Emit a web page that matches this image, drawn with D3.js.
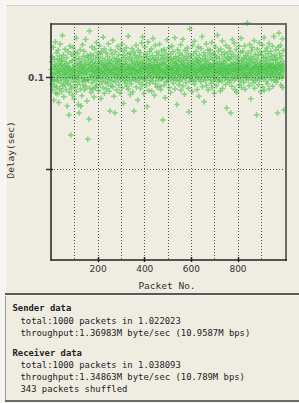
<!DOCTYPE html>
<html><head><meta charset="utf-8">
<script src="https://cdn.jsdelivr.net/npm/d3@7"></script>
<style>html,body{margin:0;padding:0;background:#f5f4ef;} svg{display:block}</style>
</head><body><svg id="c" width="299" height="403"></svg>
<script>
// Delay per packet, in units of 0.1 ms (packet numbers 1..1000)
const delayTenthMs = [
1042,998,1085,963,1021,1112,931,1057,987,1164,1015,874,1046,1098,979,952,1071,1026,1193,914,
1060,1003,1134,946,1037,981,1096,908,1051,1019,1147,990,861,1077,1032,1116,937,1008,1064,1181,
1025,969,1090,1046,922,1103,997,1069,1228,1012,951,1040,1122,984,893,1058,1030,1087,960,1014,
1153,999,1048,933,1074,1023,1108,978,1062,842,1036,994,1139,966,1053,1017,793,918,1045,1005,
1080,1170,955,1028,684,991,1125,938,1038,1013,1090,902,1057,1000,1162,975,1042,1116,1021,880,
1067,1010,1136,947,1031,1098,986,1215,921,1052,1004,1076,959,1129,1034,994,851,1063,1018,804,
1102,973,1047,1024,1150,935,1071,842,1009,1085,1040,899,1058,992,1177,1029,957,1113,1050,982,
1020,1142,1066,931,998,1094,1045,980,1207,949,1027,1073,1014,870,1119,1037,988,660,1060,1106,
985,1042,771,1083,1252,1015,940,1068,1124,1001,1049,916,1096,1030,1165,969,1056,1007,1081,934,
1035,1117,989,1062,891,1028,1155,1011,1076,943,1044,1099,981,1023,1189,955,1054,1003,1132,1039,
1072,995,1109,926,1048,1018,1086,1172,961,1033,999,1127,1051,884,1080,1025,1142,978,1065,1010,
1103,944,1039,1218,993,1069,1022,1156,912,1057,1031,1092,971,1046,1006,1134,1061,937,1019,1078,
990,1050,1114,965,1036,1183,1013,1075,923,1043,1097,986,815,1067,1024,1149,953,1041,1004,1088,
1029,1125,979,1059,1202,948,1016,1072,1038,896,1105,997,1052,804,1019,1139,1046,974,1084,1011,
1064,930,1100,1026,1047,1168,991,1077,1018,1123,958,1040,1002,1089,1056,915,1032,1152,984,1066,
1014,1095,1049,942,1180,1028,1070,996,1118,1039,856,1055,1006,1144,981,1074,1023,1106,967,1045,
1087,1000,1161,1034,950,1068,1015,1126,988,1051,1224,934,1042,1009,1098,1062,979,1131,1026,906,
1053,1021,1111,963,1077,1037,998,1157,1044,1093,919,1016,1066,989,1138,815,1049,1007,1081,1035,
1120,983,1060,1023,1175,946,1041,1104,997,1072,1030,875,1085,1012,1147,1057,972,1036,1115,993,
1068,1026,1134,938,1050,1004,1092,1043,1187,961,1019,1076,1220,987,1062,1031,1110,910,1047,1001,
1079,1166,994,1054,1017,1127,955,1040,1101,982,1069,839,1035,1113,1005,1059,1193,927,1025,1088,
1011,1048,1141,969,1064,1020,1099,990,1074,1037,1155,923,1052,1003,1119,1045,979,1212,1029,1066,
1096,1013,1056,901,1083,1027,1174,962,1042,1108,996,1061,1022,1136,945,1070,1009,1091,1039,981,
1051,1122,1002,1067,1031,1180,951,1046,1014,1097,933,1058,989,1145,1024,1076,999,1118,1037,766,
1073,993,1105,1040,958,1152,1016,1082,1028,888,1063,1009,1129,1047,975,1095,1020,1205,1055,998,
1038,1111,981,1069,1024,1163,944,1050,1003,1089,1041,1125,916,1062,1015,1103,987,1044,1170,1027,
1080,1006,1053,1139,967,1036,1100,992,1065,1021,1216,936,1075,1010,1114,1048,983,1087,1032,850,
1059,1023,1150,996,1071,1039,1107,959,1052,1018,1133,980,1094,1043,1005,1178,929,1066,1013,1085,
1030,1120,988,1058,1208,952,1042,1076,1007,1099,1025,907,1068,1037,1146,994,1054,1019,1112,971,
1047,1003,1091,1033,1159,1062,1014,1129,939,1080,810,1026,1056,997,1264,1039,1104,980,1072,1017,
1117,1050,990,1066,922,1034,1173,1008,1086,1045,981,1128,1022,1061,1197,961,1040,1098,1004,1077,
1028,1141,985,1053,1015,1108,933,1069,1031,1090,1000,1165,1046,896,1082,1024,1121,991,1060,1038,
1093,975,1045,1157,1009,1073,1035,1222,948,1055,1016,1103,988,1064,1027,1134,866,1051,1005,1087,
1042,1116,982,1070,1020,1182,955,1037,1095,1001,1059,1026,1148,930,1048,1012,1079,1054,998,1125,
1033,1071,1149,986,1044,1106,965,1063,1019,1190,942,1056,1008,1097,1040,1131,979,1074,1025,913,
1065,1002,1118,1049,992,1166,1031,1085,954,1041,1110,1014,1072,1229,995,1052,1023,1142,977,1060,
1027,1101,987,1076,1036,925,1047,1154,1010,1068,1020,1123,978,1057,1198,938,1034,1089,1006,1043,
1078,1015,1137,1052,993,1111,1029,1067,960,1174,1039,1000,831,1092,1045,1022,1127,985,1064,1013,
1105,1031,1058,1160,971,1049,1017,1096,989,1140,804,1072,1036,1112,950,1061,1025,1206,999,1044,
1079,1007,1124,1041,982,1069,1186,933,1053,1018,1102,994,1066,1032,1151,918,1047,1010,1085,1037,
1019,1116,1054,990,1075,1169,957,1042,1097,1006,1063,1028,1135,980,1050,1213,944,1071,1014,1090,
1036,997,1143,1059,1022,1108,971,1045,1083,1010,1171,934,1056,1027,1119,992,1067,1004,1100,1040,
1073,1296,1012,1051,1132,984,1064,1021,1095,953,1041,1179,1008,1078,1029,1113,882,1055,996,1146,
1024,1087,1042,1163,968,1050,1016,1104,988,1070,1035,1200,940,1062,1006,1126,1047,981,1081,1018,
1057,793,1098,1032,1153,994,1066,1023,1118,959,1044,1009,1188,1053,986,1075,1030,1137,921,1046,
1089,1014,1060,1001,1122,1039,1176,947,1068,1026,1105,991,1051,1217,928,1037,1080,1003,1143,1062,
1021,1109,978,1048,1091,1015,1159,1042,963,1071,1033,1128,998,1056,1184,936,1064,1020,1100,1045,
1076,1007,1140,1031,1054,988,1115,1067,1022,1169,951,1040,1093,1011,1062,1223,983,1049,1121,1028,
1047,1094,1003,1069,1149,972,1036,1107,1016,1058,990,804,1080,1042,1164,1025,1242,1067,999,1130,
1052,1013,1101,1038,1175,958,1073,1024,1117,994,1059,1210,943,1045,1087,1008,1146,1031,1066,821
];
const xDomain = [0, 1008];
const yDomain = [0, 0.1291];
const xGridValues = [100,200,300,400,500,600,700,800,900];
const xTickLabels = [200,400,600,800];
const yGridValues = [0.05, 0.1];
const yTickLabels = [0.1];
const xTitle = "Packet No.";
const yTitle = "Delay(sec)";
const senderTitle = "Sender data";
const senderLines = ["total:1000 packets in 1.022023", "throughput:1.36983M byte/sec (10.9587M bps)"];
const receiverTitle = "Receiver data";
const receiverLines = ["total:1000 packets in 1.038093", "throughput:1.34863M byte/sec (10.789M bps)", "343 packets shuffled"];

const points = delayTenthMs.map((d, i) => ({packet: i + 1, delay: d / 10000}));

const W = 299, H = 403;
const L = 51, R = 286, T = 24, B = 260;
const svg = d3.select('#c');
const bg = "#efece2";

// panels
svg.append("rect").attr("x",0).attr("y",0).attr("width",W).attr("height",H).attr("fill","#f6f5f1");
svg.append("rect").attr("x",5).attr("y",5).attr("width",W-5).attr("height",289).attr("fill",bg);
svg.append("line").attr("x1",5).attr("x2",W).attr("y1",5.5).attr("y2",5.5).attr("stroke","#d4d2ca");
svg.append("line").attr("x1",5.5).attr("x2",5.5).attr("y1",5).attr("y2",294).attr("stroke","#ffffff");
svg.append("rect").attr("x",5).attr("y",293).attr("width",W-5).attr("height",2).attr("fill","#5a5a5a");
svg.append("rect").attr("x",5).attr("y",296).attr("width",W-5).attr("height",104).attr("fill",bg);
svg.append("line").attr("x1",5.5).attr("x2",5.5).attr("y1",296).attr("y2",401).attr("stroke","#a09e96");
svg.append("rect").attr("x",5).attr("y",400).attr("width",W-5).attr("height",2).attr("fill","#6a6a6a");

const x = d3.scaleLinear().domain(xDomain).range([L, R]);
const y = d3.scaleLinear().domain(yDomain).range([B, T]);

// points
const plus = "M-2.8,0H2.8M0,-2.8V2.8";
svg.append("g").selectAll("path").data(points).join("path")
  .attr("d", plus)
  .attr("transform", d => `translate(${x(d.packet).toFixed(1)},${y(d.delay).toFixed(1)})`)
  .attr("fill","none").attr("stroke","rgb(66,196,66)").attr("stroke-width",1.5).attr("stroke-opacity",0.62);

// grid
const grid = svg.append("g").attr("stroke","#555").attr("stroke-width",1).attr("stroke-dasharray","1,2");
grid.selectAll(".vx").data(xGridValues).join("line")
  .attr("x1", d => Math.round(x(d)) + 0.5).attr("x2", d => Math.round(x(d)) + 0.5)
  .attr("y1", T).attr("y2", B);
grid.selectAll(".hy").data(yGridValues).join("line")
  .attr("y1", d => Math.round(y(d)) + 0.5).attr("y2", d => Math.round(y(d)) + 0.5)
  .attr("x1", L).attr("x2", R);

// axes using d3 axes
const xAxis = d3.axisBottom(x).tickValues(xTickLabels).tickSize(0).tickPadding(6).tickFormat(d3.format("d"));
const gx = svg.append("g").attr("transform", `translate(0,${B})`).call(xAxis);
gx.select(".domain").remove();
gx.selectAll("text").attr("font-family","DejaVu Sans").attr("font-size",9).attr("fill","#333");
const yAxis = d3.axisLeft(y).tickValues(yTickLabels).tickSize(0).tickPadding(7).tickFormat(d3.format(".1f"));
const gy = svg.append("g").attr("transform", `translate(${L},0)`).call(yAxis);
gy.select(".domain").remove();
gy.selectAll("text").attr("font-family","DejaVu Sans").attr("font-size",9).attr("font-weight","bold").attr("fill","#444");

// tick marks
svg.append("g").selectAll("line").data(xTickLabels).join("line")
  .attr("x1", d => Math.round(x(d)) + 0.5).attr("x2", d => Math.round(x(d)) + 0.5)
  .attr("y1", B - 3).attr("y2", B + 2).attr("stroke","#222").attr("stroke-width",1.5);
svg.append("g").selectAll("line").data(yGridValues).join("line")
  .attr("y1", d => Math.round(y(d)) + 0.5).attr("y2", d => Math.round(y(d)) + 0.5)
  .attr("x1", L - 5).attr("x2", L + 2).attr("stroke","#333").attr("stroke-width",1.5);

// frame
svg.append("line").attr("x1",R).attr("x2",R).attr("y1",T-1).attr("y2",B+1).attr("stroke","#6b6b6b").attr("stroke-width",2);
svg.append("line").attr("x1",L).attr("x2",R+1).attr("y1",T).attr("y2",T).attr("stroke","#6b6b6b").attr("stroke-width",2);
svg.append("line").attr("x1",L).attr("x2",L).attr("y1",T-1).attr("y2",B+1).attr("stroke","#222").attr("stroke-width",1.5);
svg.append("line").attr("x1",L).attr("x2",R+1).attr("y1",B).attr("y2",B).attr("stroke","#222").attr("stroke-width",1.5);

// titles
svg.append("text").attr("x", 167).attr("y", 289).attr("text-anchor","middle")
  .attr("font-family","DejaVu Sans Mono").attr("font-size",9.5).attr("fill","#333").text(xTitle);
svg.append("text").attr("transform","translate(14,150) rotate(-90)").attr("text-anchor","middle")
  .attr("font-family","DejaVu Sans Mono").attr("font-size",9.5).attr("fill","#333").text(yTitle);

// info text
const info = svg.append("g").attr("font-family","DejaVu Sans Mono").attr("font-size",8.9).attr("fill","#222");
info.append("text").attr("x",12.5).attr("y",311).attr("font-weight","bold").text(senderTitle);
senderLines.forEach((t,i) => info.append("text").attr("x",20.5).attr("y",323.5 + i*12).text(t));
info.append("text").attr("x",12.5).attr("y",355.5).attr("font-weight","bold").text(receiverTitle);
receiverLines.forEach((t,i) => info.append("text").attr("x",20.5).attr("y",368 + i*12).text(t));
</script>
</body></html>
